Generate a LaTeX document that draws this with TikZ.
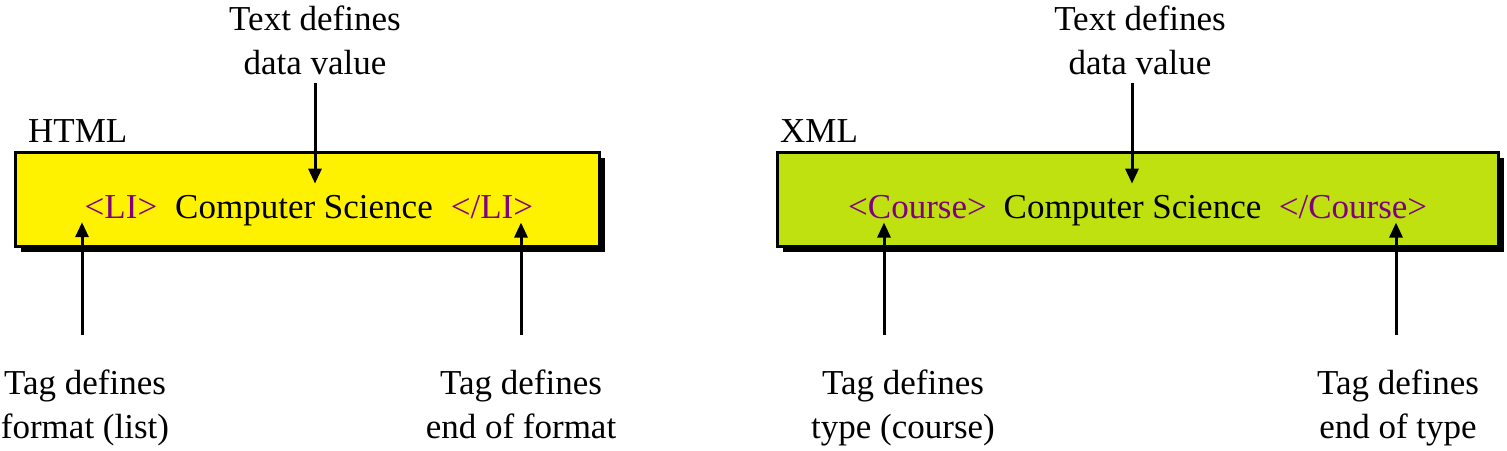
\documentclass[tikz,border=0pt]{standalone}
\usepackage{fontspec}
\setmainfont{Liberation Serif}
\usetikzlibrary{arrows.meta, shadows}

\definecolor{tagpurple}{RGB}{128,0,128}
\definecolor{xmlgreen}{RGB}{190,225,15}

\tikzset{
  tagbox/.style={draw, line width=3pt, minimum height=94pt,
    drop shadow={shadow xshift=5pt, shadow yshift=-5pt, opacity=1, fill=black}},
  tag/.style={text=tagpurple, inner sep=0pt},
  word/.style={inner sep=0pt},
  note/.style={align=center},
  arr/.style={-{Triangle[length=15pt,width=13pt]}, line width=3pt}
}

\begin{document}
\begin{tikzpicture}[x=1pt,y=-1pt,font=\fontsize{35}{44}\selectfont]
 \useasboundingbox (0,0) rectangle (1507,450);
 % HTML
 \node[tagbox, fill=yellow, minimum width=584pt] (hbox) at (307.5,199.5) {};
 \node[word, anchor=base west] (hname) at (28,142) {HTML};
 \node[tag, anchor=base] (li) at (121,218) {<LI>};
 \node[word, anchor=base] (hcs) at (304,218) {Computer Science};
 \node[tag, anchor=base] (eli) at (492,218) {</LI>};
 \node[note] (hdata) at (315,40) {Text defines\\data value};
 \node[note, anchor=north] (hfmt) at (85,366) {Tag defines\\format (list)};
 \node[note, anchor=north] (hend) at (521,366) {Tag defines\\end of format};
 \draw[arr, shorten <=5pt, shorten >=11pt] (hdata.south) -- (hdata.south |- hcs.north);
 \draw[arr, shorten <=31pt, shorten >=4pt] ([xshift=-3pt]hfmt.north) -- ([xshift=-3pt]hfmt.north |- li.south);
 \draw[arr, shorten <=31pt, shorten >=4pt] (hend.north) -- (hend.north |- eli.south);
 % XML
 \node[tagbox, fill=xmlgreen, minimum width=721pt] (xbox) at (1138,199.5) {};
 \node[word, anchor=base west] (xname) at (780,142) {XML};
 \node[tag, anchor=base] (ctag) at (917.5,218) {<Course>};
 \node[word, anchor=base] (xcs) at (1132.5,218) {Computer Science};
 \node[tag, anchor=base] (ectag) at (1353,218) {</Course>};
 \node[note] (xdata) at (1140,40) {Text defines\\data value};
 \node[note, anchor=north] (xtype) at (903,366) {Tag defines\\type (course)};
 \node[note, anchor=north] (xend) at (1398,366) {Tag defines\\end of type};
 \draw[arr, shorten <=5pt, shorten >=11pt] ([xshift=-8pt]xdata.south) -- ([xshift=-8pt]xdata.south |- xcs.north);
 \draw[arr, shorten <=31pt, shorten >=4pt] ([xshift=-19pt]xtype.north) -- ([xshift=-19pt]xtype.north |- ctag.south);
 \draw[arr, shorten <=31pt, shorten >=4pt] ([xshift=-2pt]xend.north) -- ([xshift=-2pt]xend.north |- ectag.south);
\end{tikzpicture}
\end{document}
